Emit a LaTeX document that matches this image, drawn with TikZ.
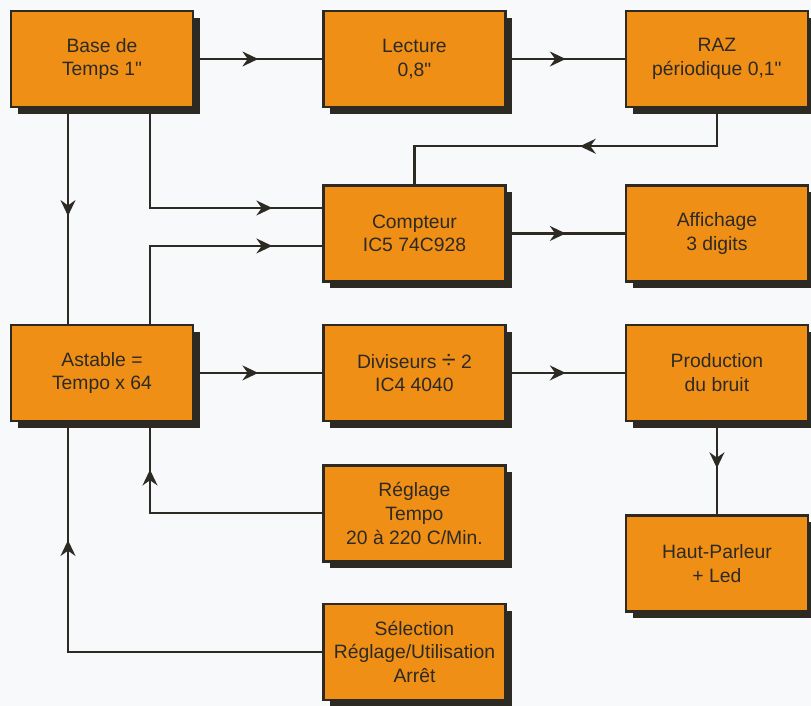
\documentclass[tikz,border=0pt]{standalone}
\usepackage{fontspec}
\setmainfont{Liberation Sans}
\usepackage{xcolor}
\definecolor{boxorange}{RGB}{240,143,22}
\definecolor{inkdark}{RGB}{45,42,35}
\definecolor{paper}{RGB}{247,249,250}
\usepackage{tikz}
\usetikzlibrary{arrows.meta,positioning,calc,shadows,decorations.markings}

\begin{document}
\begin{tikzpicture}[
  font=\fontsize{11}{13.5}\selectfont,
  box/.style={draw=inkdark, line width=1.4pt, fill=boxorange, text=inkdark,
              align=center, inner sep=2pt,
              minimum width=3.64cm, minimum height=1.92cm,
              drop shadow={shadow xshift=0.14cm, shadow yshift=-0.14cm,
                           fill=inkdark, opacity=1}},
  arr/.style={draw=inkdark, line width=1.2pt, postaction={decorate},
              decoration={markings, mark=at position #1 with
                {\arrow{Stealth[length=9pt,width=8.5pt,inset=3pt]}}}},
  arr/.default=0.5
]
\useasboundingbox (0,0) rectangle (16.22,-14.12);
\fill[paper] (0,0) rectangle (16.22,-14.12);

\node[box] (base) at (2.04,-1.18) {Base de\\ Temps 1\textquotedbl};
\node[box, right=2.56cm of base] (lect) {Lecture\\ 0,8\textquotedbl};
\node[box, right=2.36cm of lect] (raz)  {RAZ\\ périodique 0,1\textquotedbl};
\node[box, below=1.52cm of lect] (cpt)  {Compteur\\ IC5 74C928};
\node[box, below=1.52cm of raz]  (aff)  {Affichage\\ 3 digits};
\node[box, below=0.82cm of cpt]  (div)  {Diviseurs {\Large ÷} 2\\ IC4 4040};
\node[box, left=2.56cm of div]   (ast)  {Astable =\\ Tempo x 64};
\node[box, right=2.36cm of div]  (prod) {Production\\ du bruit};
\node[box, below=1.84cm of prod] (hp)   {Haut-Parleur\\ + Led};
\node[box, below=0.84cm of div]  (regl) {Réglage\\ Tempo\\ 20 à 220 C/Min.};
\node[box, below=0.8cm of regl]  (sel)  {Sélection\\ Réglage/Utilisation\\ Arrêt};

\draw[arr] (base) -- (lect);
\draw[arr] (lect) -- (raz);
\draw[arr=3.5cm] (raz.south) -- ++(0,-0.76) -| (cpt.north);
\draw[arr] ([xshift=-0.68cm]base.south) -- ([xshift=-0.68cm]ast.north);
\draw[arr=-1cm] ([xshift=0.96cm]base.south) |- ([yshift=0.51cm]cpt.west);
\draw[arr=-1cm] ([xshift=0.96cm]ast.north) |- ([yshift=-0.25cm]cpt.west);
\draw[arr] (cpt) -- (aff);
\draw[arr] (ast) -- (div);
\draw[arr] (div) -- (prod);
\draw[arr] (prod) -- (hp);
\draw[arr=-0.95cm] (regl.west) -| ([xshift=0.96cm]ast.south);
\draw[arr=-2.36cm] (sel.west) -| ([xshift=-0.68cm]ast.south);
\end{tikzpicture}
\end{document}
